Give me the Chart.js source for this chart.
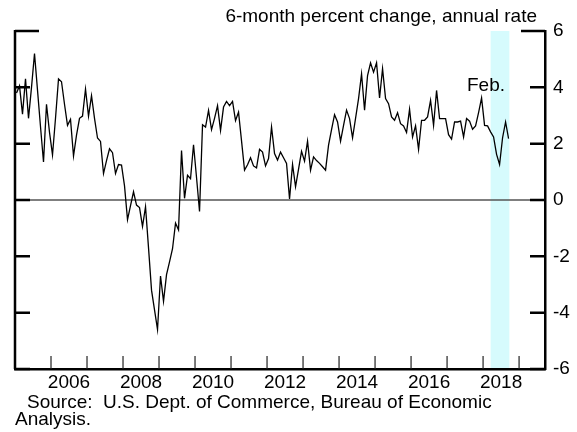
<!DOCTYPE html>
<html>
<head>
<meta charset="utf-8">
<script src="https://cdn.jsdelivr.net/npm/chart.js"></script>
<style>
    body {
        margin: 0;
        background: #fff;
    }

    #wrap {
        position: relative;
        width: 577px;
        height: 432px;
        font-family: "Liberation Sans", Arial, sans-serif;
        color: #000;
    }

    #chart {
        position: absolute;
        left: 0;
        top: 0;
    }

    .note {
        position: absolute;
        font-size: 19px;
        line-height: 19px;
        white-space: pre;
    }
</style>
</head>
<body>
<div id="wrap">
    <canvas id="chart" width="577" height="432"></canvas>
    <div class="note" style="right: 40px; top: 6px;">6-month percent change, annual rate</div>
    <div class="note" style="left: 467px; top: 75px;">Feb.</div>
    <div class="note" style="left: 15px; top: 393px; line-height: 17px;"><span style="padding-left: 12px;">Source:  U.S. Dept. of Commerce, Bureau of Economic</span><br>Analysis.</div>
</div>

<script>
    // monthly series, first value = July 2004, last = Feb. 2018
    const startYear = 2004
    const startMonth = 7
    const values = [
        3.8, 4.05, 3.05, 4.3, 2.9, 4.0, 5.2, 3.9, 2.6, 1.35,
        3.4, 2.4, 1.6, 2.9, 4.3, 4.2, 3.4, 2.65, 2.86, 1.56,
        2.3, 2.9, 2.98, 3.94, 2.98, 3.7, 2.9, 2.2, 2.08, 0.94,
        1.4, 1.82, 1.68, 0.94, 1.26, 1.24, 0.5, -0.7, -0.2, 0.29,
        -0.18, -0.27, -0.94, -0.24, -1.7, -3.2, -3.9, -4.6, -2.7, -3.6,
        -2.65, -2.2, -1.73, -0.82, -1.06, 1.76, 0.06, 0.88, 0.76, 1.96,
        0.8, -0.41, 2.67, 2.59, 3.18, 2.5, 2.9, 3.35, 2.47, 3.3,
        3.5, 3.35, 3.5, 2.82, 3.12, 2.1, 1.06, 1.25, 1.5, 1.21,
        1.14, 1.8, 1.7, 1.21, 1.47, 2.59, 1.65, 1.42, 1.7, 1.5,
        1.3, 0.04, 1.26, 0.47, 1.1, 1.73, 1.38, 2.09, 1.06, 1.53,
        1.4, 1.3, 1.18, 1.06, 1.95, 2.5, 3.03, 2.77, 2.09, 2.65,
        3.19, 2.89, 2.21, 2.9, 3.6, 4.48, 3.19, 4.42, 4.87, 4.54,
        4.87, 3.62, 4.66, 3.6, 3.42, 2.95, 2.83, 3.1, 2.71, 2.63,
        2.4, 3.22, 2.24, 2.63, 1.8, 2.83, 2.83, 2.95, 3.54, 2.65,
        3.89, 2.89, 2.89, 2.89, 2.32, 2.16, 2.77, 2.77, 2.8, 2.24,
        2.89, 2.8, 2.51, 2.63, 3.1, 3.62, 2.65, 2.63, 2.42, 2.24,
        1.62, 1.26, 2.21, 2.77, 2.18
    ]
    const yearLabels = [2006, 2007, 2008, 2009, 2010, 2011, 2012, 2013, 2014, 2015, 2016, 2017, 2018]
    const shownYears = [2006, 2008, 2010, 2012, 2014, 2016, 2018]
    const yTicks = [-6, -4, -2, 0, 2, 4, 6]
    const band = [2017.71, 2018.23]
    const xMin = 2004.5
    const xMax = 2019.22

    const points = values.map((v, i) => ({ x: startYear + (startMonth - 1 + i + 0.5) / 12, y: v }))
    const fontFamily = '"Liberation Sans", Arial, sans-serif'

    const decor = {
        id: 'decor',
        beforeDatasetsDraw(chart) {
            const { ctx, chartArea: a, scales: { x, y } } = chart
            ctx.save()
            // shaded period
            const b0 = x.getPixelForValue(band[0])
            const b1 = x.getPixelForValue(band[1])
            ctx.fillStyle = 'rgb(214, 251, 253)'
            ctx.fillRect(b0, a.top, b1 - b0, a.bottom - a.top - 1)
            // zero line
            const y0 = y.getPixelForValue(0)
            ctx.strokeStyle = '#555'
            ctx.lineWidth = 1.5
            ctx.beginPath()
            ctx.moveTo(a.left, y0)
            ctx.lineTo(a.right, y0)
            ctx.stroke()
            ctx.restore()
        },
        afterDatasetsDraw(chart) {
            const { ctx, chartArea: a, scales: { x, y } } = chart
            ctx.save()
            ctx.strokeStyle = '#000'
            ctx.lineWidth = 2.5
            // left axis
            ctx.beginPath()
            ctx.moveTo(a.left, a.top - 1)
            ctx.lineTo(a.left, a.bottom)
            ctx.stroke()
            // inward ticks on both sides
            yTicks.forEach(v => {
                const py = y.getPixelForValue(v)
                const len = v === yTicks[yTicks.length - 1] ? 24 : 15
                ctx.beginPath()
                ctx.moveTo(a.left, py)
                ctx.lineTo(a.left + len, py)
                ctx.moveTo(a.right, py)
                ctx.lineTo(a.right - len, py)
                ctx.stroke()
            })
            // year boundary ticks at mid-year on the bottom axis
            ctx.lineWidth = 1.2
            ctx.strokeStyle = '#222'
            const firstYear = yearLabels[0] - 1
            for (let yr = firstYear; yr <= yearLabels[yearLabels.length - 1]; yr++) {
                const px = x.getPixelForValue(yr + 0.5)
                ctx.beginPath()
                ctx.moveTo(px, a.bottom)
                ctx.lineTo(px, a.bottom - 13)
                ctx.stroke()
            }
            ctx.restore()
        }
    }

    window.addEventListener('DOMContentLoaded', () => {
        new Chart(document.getElementById('chart'), {
            type: 'line',
            data: {
                datasets: [{
                    data: points,
                    borderColor: '#000',
                    borderWidth: 1.3,
                    pointRadius: 0,
                    tension: 0,
                    fill: false
                }]
            },
            options: {
                responsive: false,
                animation: false,
                layout: { padding: { left: 15, top: 31, right: 0, bottom: 0 } },
                plugins: {
                    legend: { display: false },
                    tooltip: { enabled: false }
                },
                scales: {
                    x: {
                        type: 'linear',
                        min: xMin,
                        max: xMax,
                        afterBuildTicks: s => { s.ticks = shownYears.map(v => ({ value: v })) },
                        afterFit: s => { s.height = 63 },
                        grid: { display: false, drawTicks: false },
                        border: { display: true, color: '#000', width: 2.5 },
                        ticks: {
                            color: '#000',
                            font: { family: fontFamily, size: 19 },
                            padding: 2,
                            maxRotation: 0,
                            autoSkip: false,
                            callback: v => String(v)
                        }
                    },
                    y: {
                        position: 'right',
                        min: -6,
                        max: 6,
                        afterBuildTicks: s => { s.ticks = yTicks.map(v => ({ value: v })) },
                        afterFit: s => { s.width = 32 },
                        grid: { display: false, drawTicks: false },
                        border: { display: true, color: '#000', width: 2.5 },
                        ticks: {
                            color: '#000',
                            font: { family: fontFamily, size: 19 },
                            padding: 8,
                            crossAlign: 'near',
                            callback: v => String(v)
                        }
                    }
                }
            },
            plugins: [decor]
        })
    })
</script>
</body>
</html>
